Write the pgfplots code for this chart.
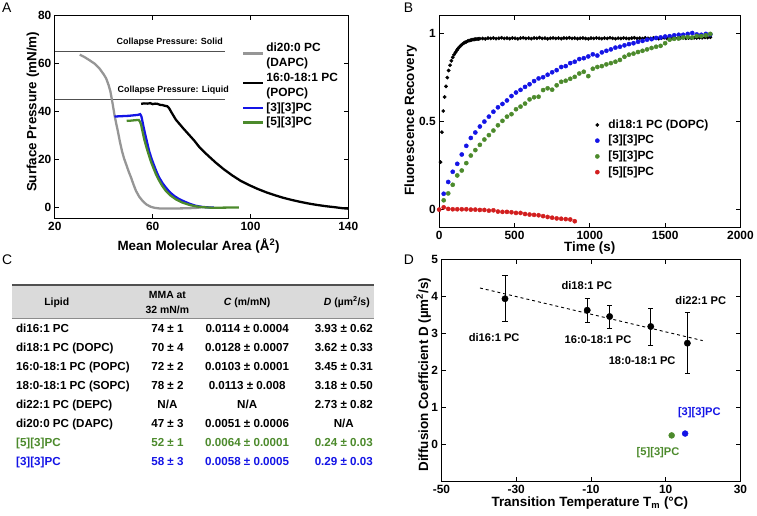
\documentclass[border=0pt]{standalone}
\usepackage{fontspec}
\setmainfont{Liberation Sans}
\usepackage{pgfplots}
\pgfplotsset{compat=1.18}
\definecolor{cgray}{RGB}{150,150,150}
\definecolor{cblue}{RGB}{20,20,230}
\definecolor{cgreen}{RGB}{76,138,44}
\definecolor{cred}{RGB}{210,30,30}
\definecolor{cline}{RGB}{80,80,80}
\definecolor{hdr}{RGB}{218,218,218}
\pgfplotsset{mat/.style={
  scale only axis, anchor=south west,
  axis line style={line width=1.1bp},
  every tick/.style={black, line width=0.8bp},
  major tick length=4.5bp, tick align=inside,
  xtick pos=both, ytick pos=both,
  ticklabel style={font=\fontsize{12}{12}\selectfont\bfseries},
  label style={font=\fontsize{13.5}{13.5}\selectfont\bfseries},
  legend cell align=left,
},
shiftleg/.style={legend image code/.code={\draw[##1] (0bp,-5bp)--(20bp,-5bp);}},
lineleg/.style={legend image code/.code={\draw[##1] (0bp,0bp)--(20bp,0bp);}},
dotleg/.style={legend image code/.code={\draw[##1] plot coordinates {(0bp,0bp)};}},
}
\begin{document}
\begin{tikzpicture}
\path (0,0) rectangle (757bp,517bp);
% panel letters
\node[anchor=base west, inner sep=0, font=\fontsize{14}{14}\selectfont] at (2bp,504bp) {A};
\node[anchor=base west, inner sep=0, font=\fontsize{14}{14}\selectfont] at (405bp,504bp) {B};
\node[anchor=base west, inner sep=0, font=\fontsize{14}{14}\selectfont] at (2bp,252bp) {C};
\node[anchor=base west, inner sep=0, font=\fontsize{14}{14}\selectfont] at (405bp,252bp) {D};

% ---------------- Panel A
\begin{axis}[mat, at={(55bp,298bp)}, width=294.5bp, height=203.3bp,
  xmin=20, xmax=140, ymin=-4.5, ymax=80,
  xtick={20,60,100,140}, xticklabels={20,60,100,140},
  ytick={0,20,40,60,80}, yticklabels={0,20,40,60,80},
  xlabel={Mean Molecular Area (Å\textsuperscript{2})},
  ylabel={Surface Pressure (mN/m)},
  xlabel style={at={(axis description cs:0.49,-0.138)}, anchor=center},
  ylabel style={at={(axis description cs:-0.0746,0.525)}, anchor=center},
  legend style={draw=none, fill=none, inner sep=0pt, outer sep=0pt,
    at={(0.6384,0.8667)}, anchor=north west, row sep=3.2bp,
    font=\fontsize{12}{12}\selectfont\bfseries,
    nodes={inner sep=0pt, text height=9bp, text depth=2.5bp},
    /tikz/every odd column/.append style={column sep=2bp}},
]
\addplot[cline, line width=1.4bp, forget plot] coordinates {(20,65) (89.7,65)};
\addplot[cline, line width=1.4bp, forget plot] coordinates {(20,45) (89.7,45)};
\node[font=\fontsize{9}{9}\selectfont\bfseries, anchor=center] at (axis cs:67,68.9) {Collapse Pressure: Solid};
\node[font=\fontsize{9}{9}\selectfont\bfseries, anchor=center] at (axis cs:68.4,48.7) {Collapse Pressure: Liquid};
\addplot[cgray, line width=2.3bp, shiftleg] coordinates {
(30.2,63.7)(32,62.8)(34.2,61.4)(36.5,59.8)(38.3,57.9)(40,55.5)(41,53.8)(42,51)(42.7,48.5)(43.5,44.1)(44.4,38.6)(45.1,35)(45.8,31.7)(46.6,27.5)(47.5,23.4)(48.3,20.5)(49.2,17.9)(50.2,15)(51.2,12.4)(52.2,9.5)(53.2,6.9)(54.5,4.5)(55.9,2.7)(57.5,1.2)(59.3,0.25)(61,-0.2)(62.7,-0.4)(66,-0.4)(70.9,-0.4)(74,-0.35)(77.6,-0.2)(79.7,0)};
\addlegendentry{di20:0 PC}
\addlegendimage{empty legend}
\addlegendentry{(DAPC)}
\addplot[black, line width=2.3bp, shiftleg] coordinates {
(55.3,43.2)(56.5,43.4)(58,43.3)(59,43.5)(60,43.1)(61,43.3)(62,43.2)(63,42.8)(64,42.7)(65,42.4)(66,42.2)(66.8,41.3)(67.5,40)(68.5,38.3)(69.5,36.6)(71,34.8)(72.5,33)(74,31.3)(75.5,29.6)(77,27.9)(79,25.3)(81,23.2)(83,21.3)(85.8,18.7)(89,16)(92.5,13.4)(96,11.1)(99.3,9.4)(103,7.7)(106.5,6.3)(110,5.1)(113.5,4)(117,3.1)(120.5,2.3)(124,1.6)(127.5,1)(131,0.5)(134.5,0.1)(137.5,-0.3)(140,-0.5)};
\addlegendentry{16:0-18:1 PC}
\addlegendimage{empty legend}
\addlegendentry{(POPC)}
\addplot[cblue, line width=2.3bp, lineleg] coordinates {
(44.4,37.9)(46,38.0)(48,38.1)(50,38.2)(52,38.4)(53.9,38.6)(54.9,38.9)(55.4,38)(55.7,36.5)(56.3,33.5)(57,30.3)(57.8,26.8)(58.6,23.4)(59.6,20.2)(60.7,17.2)(61.7,14.6)(62.7,12.4)(64,10.2)(65.4,8.3)(67,6.4)(68.8,4.8)(70.8,3.5)(72.9,2.5)(75.2,1.5)(77.6,0.7)(80,0.25)(83,0)(85,0)};
\addlegendentry{[3][3]PC}
\addplot[cgreen, line width=2.3bp, lineleg] coordinates {
(49.4,36.1)(51,36.2)(53,36.4)(54.3,36.5)(54.8,35.8)(55.3,34.5)(55.9,31.5)(56.6,28.3)(57.5,25)(58.4,22)(59.3,19.1)(60.3,16.5)(61.3,14)(62.4,11.7)(63.8,9.2)(65.4,6.9)(67.3,5)(69.5,3.4)(72,2.1)(74.9,1.1)(77.5,0.5)(80.3,0.1)(84,-0.1)(87.4,-0.1)(91,-0.05)(95.3,0)};
\addlegendentry{[5][3]PC}
\end{axis}

% ---------------- Panel B
\begin{axis}[mat, at={(440.7bp,289bp)}, width=302.3bp, height=212bp,
  xmin=0, xmax=2000, ymin=-0.1, ymax=1.1,
  xtick={0,500,1000,1500,2000}, xticklabels={0,500,1000,1500,2000},
  ytick={0,0.5,1}, yticklabels={0,0.5,1},
  xlabel={Time (s)}, ylabel={Fluorescence Recovery},
  xlabel style={at={(axis description cs:0.5,-0.099)}, anchor=center},
  ylabel style={at={(axis description cs:-0.095,0.505)}, anchor=center},
  legend style={draw=none, fill=none, inner sep=0pt, outer sep=0pt,
    at={(0.518,0.5113)}, anchor=north west, row sep=4.3bp,
    font=\fontsize{12}{12}\selectfont\bfseries,
    nodes={inner sep=0pt, text height=9bp, text depth=2.5bp},
    /tikz/every odd column/.append style={column sep=9bp}},
]
\addplot[only marks, mark=*, mark size=1.7bp, black, dotleg] coordinates {
(9,0.27)(18,0.44)(27,0.56)(36,0.64)(45,0.70)(54,0.75)(63,0.79)(72,0.82)(81,0.845)(90,0.865)(99,0.88)(108,0.893)(117,0.905)(126,0.915)(135,0.924)(144,0.932)(153,0.939)(162,0.945)(171,0.950)(180,0.953)(189,0.957)(198,0.960)(207,0.962)(216,0.964)(225,0.966)(234,0.967)(243,0.968)(252,0.969)(261,0.970)(270,0.971)
(288,0.972)(306,0.970)(324,0.974)(342,0.972)(360,0.975)(378,0.971)(396,0.973)(414,0.976)(432,0.972)(450,0.974)(468,0.971)(486,0.975)(504,0.973)(522,0.970)(540,0.974)(558,0.976)(576,0.972)(594,0.974)(612,0.971)(630,0.975)(648,0.973)(666,0.977)(684,0.972)(702,0.974)(720,0.970)(738,0.973)(756,0.975)(774,0.972)(792,0.974)(810,0.971)(828,0.975)(846,0.973)(864,0.976)(882,0.972)(900,0.974)(918,0.971)(936,0.973)(954,0.975)(972,0.972)(990,0.970)(1008,0.974)(1026,0.972)(1044,0.975)(1062,0.973)(1080,0.971)(1098,0.974)(1116,0.972)(1134,0.976)(1152,0.973)(1170,0.971)(1188,0.974)(1206,0.972)(1224,0.975)(1242,0.973)(1260,0.971)(1278,0.974)(1296,0.976)(1314,0.972)(1332,0.974)(1350,0.971)(1368,0.975)(1386,0.973)(1404,0.972)(1422,0.975)(1440,0.973)(1458,0.971)(1476,0.974)(1494,0.976)(1512,0.972)(1530,0.974)(1548,0.973)(1566,0.975)(1584,0.972)(1602,0.974)(1620,0.976)(1638,0.973)(1656,0.975)(1674,0.974)(1692,0.976)(1710,0.975)(1728,0.977)(1746,0.976)(1764,0.978)(1782,0.977)(1800,0.979)};
\addlegendentry{di18:1 PC (DOPC)}
\addplot[only marks, mark=*, mark size=2.1bp, cblue, dotleg] coordinates {
(30,0.09)(60,0.157)(90,0.215)(120,0.26)(150,0.313)(180,0.362)(210,0.407)(240,0.438)(270,0.472)(300,0.50)(330,0.528)(360,0.556)(390,0.581)(420,0.600)(450,0.620)(480,0.645)(510,0.665)(540,0.680)(570,0.697)(600,0.712)(630,0.730)(660,0.745)(690,0.752)(720,0.766)(750,0.780)(780,0.792)(810,0.810)(840,0.815)(870,0.832)(900,0.840)(930,0.855)(960,0.860)(990,0.870)(1020,0.882)(1050,0.875)(1080,0.893)(1110,0.902)(1140,0.910)(1170,0.920)(1200,0.925)(1230,0.933)(1260,0.940)(1290,0.945)(1320,0.953)(1350,0.958)(1380,0.965)(1410,0.968)(1440,0.975)(1470,0.978)(1500,0.983)(1530,0.985)(1560,0.990)(1590,0.993)(1620,0.993)(1650,0.998)(1680,1.003)(1710,0.995)(1740,0.993)(1770,0.998)(1800,0.995)};
\addlegendentry{[3][3]PC}
\addplot[only marks, mark=*, mark size=2.1bp, cgreen, dotleg] coordinates {
(30,0.053)(60,0.092)(90,0.141)(120,0.194)(150,0.222)(180,0.264)(210,0.307)(240,0.338)(270,0.368)(300,0.398)(330,0.423)(360,0.449)(390,0.479)(420,0.504)(450,0.528)(480,0.542)(510,0.570)(540,0.585)(570,0.602)(600,0.626)(630,0.638)(660,0.641)(690,0.679)(720,0.689)(750,0.681)(780,0.706)(810,0.726)(840,0.732)(870,0.743)(900,0.754)(930,0.773)(960,0.783)(990,0.758)(1020,0.800)(1050,0.810)(1080,0.815)(1110,0.825)(1140,0.832)(1170,0.840)(1200,0.850)(1230,0.868)(1260,0.880)(1290,0.886)(1320,0.895)(1350,0.902)(1380,0.910)(1410,0.918)(1440,0.925)(1470,0.930)(1500,0.945)(1530,0.965)(1560,0.970)(1590,0.972)(1620,0.978)(1650,0.980)(1680,0.978)(1710,0.986)(1740,0.985)(1770,0.990)(1800,0.998)};
\addlegendentry{[5][3]PC}
\addplot[only marks, mark=*, mark size=2.1bp, cred, dotleg] coordinates {
(0,0)(30,0.013)(60,0.004)(90,0.002)(120,0.002)(150,0.002)(180,0.002)(210,0)(240,0)(270,-0.002)(300,-0.002)(330,-0.006)(360,-0.004)(390,-0.011)(420,-0.013)(450,-0.013)(480,-0.015)(510,-0.019)(540,-0.019)(570,-0.025)(600,-0.028)(630,-0.030)(660,-0.032)(690,-0.037)(720,-0.042)(750,-0.046)(780,-0.050)(810,-0.052)(840,-0.054)(870,-0.056)(900,-0.066)};
\addlegendentry{[5][5]PC}
\end{axis}

% ---------------- Panel D
\begin{axis}[mat, at={(443bp,34bp)}, width=300bp, height=223bp,
  xmin=-50, xmax=30, ymin=-1, ymax=5,
  xtick={-50,-30,-10,10,30}, xticklabels={-50,-30,-10,10,30},
  ytick={0,1,2,3,4,5}, yticklabels={0,1,2,3,4,5},
  xlabel={Transition Temperature T\textsubscript{m} (°C)},
  ylabel={Diffusion Coefficient D (µm\textsuperscript{2}/s)},
  xlabel style={at={(axis description cs:0.496,-0.099)}, anchor=center},
  ylabel style={at={(axis description cs:-0.06,0.48)}, anchor=center},
]
\addplot[black, dashed, line width=0.9bp] coordinates {(-39.7,4.22) (19.9,2.80)};
\addplot[only marks, mark=*, mark size=3.2bp, black,
  error bars/.cd, y dir=both, y explicit,
  error bar style={line width=0.8bp, black},
  error mark options={rotate=90, mark size=2.6bp, line width=0.8bp, black}] coordinates {
(-33,3.93) +- (0,0.62)
(-11,3.62) +- (0,0.33)
(-5,3.45) +- (0,0.31)
(6,3.18) +- (0,0.50)
(15.8,2.73) +- (0,0.82)};
\addplot[only marks, mark=*, mark size=3bp, cgreen] coordinates {(11.6,0.24)};
\addplot[only marks, mark=*, mark size=3bp, cblue] coordinates {(15.2,0.29)};
\begin{scope}[every node/.style={font=\fontsize{11.2}{11.2}\selectfont\bfseries, anchor=center}]
\node at (axis cs:-35.9,2.88) {di16:1 PC};
\node at (axis cs:-11.1,4.29) {di18:1 PC};
\node at (axis cs:-8.1,2.83) {16:0-18:1 PC};
\node at (axis cs:3.7,2.27) {18:0-18:1 PC};
\node at (axis cs:19.4,3.89) {di22:1 PC};
\node[text=cblue] at (axis cs:19.0,0.86) {[3][3]PC};
\node[text=cgreen] at (axis cs:7.95,-0.22) {[5][3]PC};
\end{scope}
\end{axis}

% ---------------- Panel C (table)
\fill[hdr] (12bp,197bp) rectangle (375bp,231bp);
\draw[cline, line width=1.4bp] (12bp,231bp) -- (375bp,231bp);
\draw[black!45, line width=0.8bp] (12bp,197bp) -- (375bp,197bp);
\begin{scope}[every node/.style={font=\fontsize{10.5}{10.5}\selectfont\bfseries, inner sep=0, anchor=base}]
\node at (57bp,210.2bp) {Lipid};
\node at (168bp,217.2bp) {MMA at};
\node at (168bp,202.5bp) {32 mN/m};
\node at (248bp,210.2bp) {\textit{C} (m/mN)};
\node at (348bp,210.2bp) {\textit{D} (µm\textsuperscript{2}/s)};
\end{scope}
\begin{scope}[every node/.style={font=\fontsize{11.7}{11.7}\selectfont\bfseries, inner sep=0, anchor=base}]
\node[anchor=base west] at (16bp,183.5bp) {di16:1 PC};
\node at (168bp,183.5bp) {74 ± 1};
\node at (248bp,183.5bp) {0.0114 ± 0.0004};
\node at (345bp,183.5bp) {3.93 ± 0.62};
\node[anchor=base west] at (16bp,164.5bp) {di18:1 PC (DOPC)};
\node at (168bp,164.5bp) {70 ± 4};
\node at (248bp,164.5bp) {0.0128 ± 0.0007};
\node at (345bp,164.5bp) {3.62 ± 0.33};
\node[anchor=base west] at (16bp,145.1bp) {16:0-18:1 PC (POPC)};
\node at (168bp,145.1bp) {72 ± 2};
\node at (248bp,145.1bp) {0.0103 ± 0.0001};
\node at (345bp,145.1bp) {3.45 ± 0.31};
\node[anchor=base west] at (16bp,126.1bp) {18:0-18:1 PC (SOPC)};
\node at (168bp,126.1bp) {78 ± 2};
\node at (248bp,126.1bp) {0.0113 ± 0.008};
\node at (345bp,126.1bp) {3.18 ± 0.50};
\node[anchor=base west] at (16bp,107.1bp) {di22:1 PC (DEPC)};
\node at (168bp,107.1bp) {N/A};
\node at (248bp,107.1bp) {N/A};
\node at (345bp,107.1bp) {2.73 ± 0.82};
\node[anchor=base west] at (16bp,87.8bp) {di20:0 PC (DAPC)};
\node at (168bp,87.8bp) {47 ± 3};
\node at (248bp,87.8bp) {0.0051 ± 0.0006};
\node at (345bp,87.8bp) {N/A};
\node[anchor=base west, text=cgreen] at (16bp,68.8bp) {[5][3]PC};
\node[text=cgreen] at (168bp,68.8bp) {52 ± 1};
\node[text=cgreen] at (248bp,68.8bp) {0.0064 ± 0.0001};
\node[text=cgreen] at (345bp,68.8bp) {0.24 ± 0.03};
\node[anchor=base west, text=cblue] at (16bp,49.5bp) {[3][3]PC};
\node[text=cblue] at (168bp,49.5bp) {58 ± 3};
\node[text=cblue] at (248bp,49.5bp) {0.0058 ± 0.0005};
\node[text=cblue] at (345bp,49.5bp) {0.29 ± 0.03};
\end{scope}
\end{tikzpicture}
\end{document}
